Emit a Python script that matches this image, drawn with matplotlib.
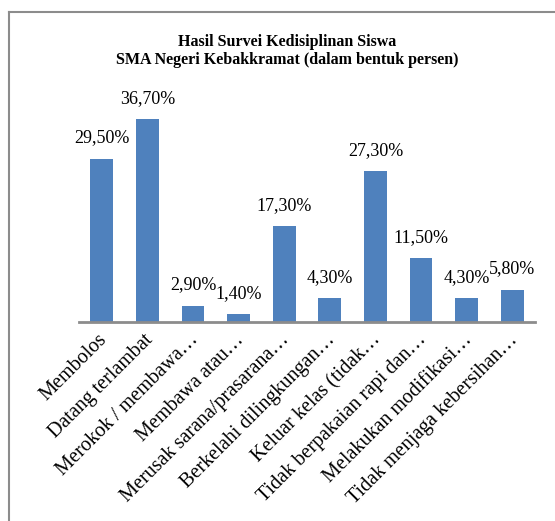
import numpy as np
import matplotlib.pyplot as plt
import matplotlib.transforms as mtransforms
from matplotlib.lines import Line2D

kategori = ['Membolos', 'Datang terlambat', 'Merokok / membawa\u2026',
            'Membawa atau\u2026', 'Merusak sarana/prasarana\u2026',
            'Berkelahi dilingkungan\u2026', 'Keluar kelas (tidak\u2026',
            'Tidak berpakaian rapi dan\u2026', 'Melakukan modifikasi\u2026',
            'Tidak menjaga kebersihan\u2026']
persen = [29.5, 36.7, 2.9, 1.4, 17.3, 4.3, 27.3, 11.5, 4.3, 5.8]
label_persen = ['29,50%', '36,70%', '2,90%', '1,40%', '17,30%',
                '4,30%', '27,30%', '11,50%', '4,30%', '5,80%']

plt.rcParams['font.family'] = ['Liberation Serif', 'DejaVu Serif']

W, H = 555, 521
fig = plt.figure(figsize=(W/100, H/100), dpi=100)

# frame of the chart area (only top and left visible)
fig.add_artist(Line2D([9/W, 9/W], [0, 1-12/H], transform=fig.transFigure,
                      color='#8c8c8c', lw=1.5))
fig.add_artist(Line2D([9/W, 1], [1-12/H, 1-12/H], transform=fig.transFigure,
                      color='#8c8c8c', lw=1.5))

ax_left, ax_right = 79/W, 535/W
ax_bot, ax_top = 1-322/H, 1-101/H
ax = fig.add_axes([ax_left, ax_bot, ax_right-ax_left, ax_top-ax_bot])

x = np.arange(len(kategori))
bars = ax.bar(x, persen, width=0.5, color='#4F81BD', zorder=2)
ax.set_xlim(-0.5, len(kategori)-0.5)
ax.set_ylim(0, 40)

for b, t in zip(bars, label_persen):
    ax.annotate(t, (b.get_x()+b.get_width()/2, b.get_height()),
                xytext=(0, 21), textcoords='offset pixels',
                ha='center', va='center', fontsize=13)

for s in ['top', 'right', 'left']:
    ax.spines[s].set_visible(False)
ax.spines['bottom'].set_color('#8c8c8c')
ax.spines['bottom'].set_linewidth(2)
ax.set_yticks([])
ax.set_xticks(x)
ax.set_xticklabels(kategori, rotation=45, ha='right', va='top',
                   rotation_mode='anchor', fontsize=14.5)
ax.tick_params(axis='x', length=0, pad=6)

# nudge the slanted labels a little to the left
geser = mtransforms.ScaledTranslation(-4/100, 0, fig.dpi_scale_trans)
for lbl in ax.get_xticklabels():
    lbl.set_transform(lbl.get_transform() + geser)

fig.text(0.517, 1-42/H, 'Hasil Survei Kedisiplinan Siswa', ha='center',
         va='center', fontsize=11.5, fontweight='bold')
fig.text(0.517, 1-60/H, 'SMA Negeri Kebakkramat (dalam bentuk persen)',
         ha='center', va='center', fontsize=11.5, fontweight='bold')

fig.savefig('out.png', dpi=100)
